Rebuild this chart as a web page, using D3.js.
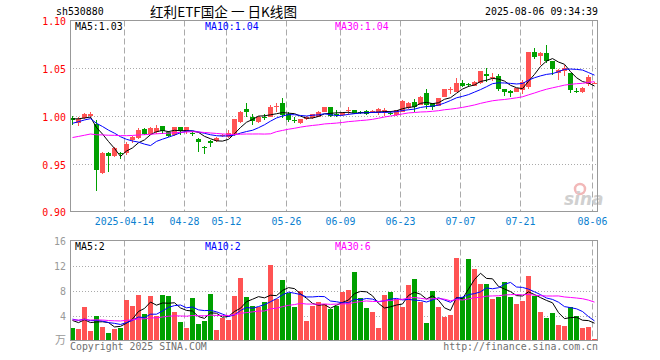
<!DOCTYPE html>
<html><head><meta charset="utf-8">
<script src="https://cdn.jsdelivr.net/npm/d3@7"></script>
<style>body{margin:0;background:#fff}svg{display:block}</style>
</head><body><svg id="c" width="660" height="360"></svg>
<script>
// ---------- data ----------
const dates = ["2025-03-31","2025-04-01","2025-04-02","2025-04-03","2025-04-07","2025-04-08","2025-04-09","2025-04-10","2025-04-11",
"2025-04-14","2025-04-15","2025-04-16","2025-04-17","2025-04-18","2025-04-21","2025-04-22","2025-04-23","2025-04-24","2025-04-25",
"2025-04-28","2025-04-29","2025-04-30","2025-05-06","2025-05-07","2025-05-08","2025-05-09",
"2025-05-12","2025-05-13","2025-05-14","2025-05-15","2025-05-16","2025-05-19","2025-05-20","2025-05-21","2025-05-22","2025-05-23",
"2025-05-26","2025-05-27","2025-05-28","2025-05-29","2025-05-30","2025-06-03","2025-06-04","2025-06-05","2025-06-06",
"2025-06-09","2025-06-10","2025-06-11","2025-06-12","2025-06-13","2025-06-16","2025-06-17","2025-06-18","2025-06-19","2025-06-20",
"2025-06-23","2025-06-24","2025-06-25","2025-06-26","2025-06-27","2025-06-30","2025-07-01","2025-07-02","2025-07-03","2025-07-04",
"2025-07-07","2025-07-08","2025-07-09","2025-07-10","2025-07-11","2025-07-14","2025-07-15","2025-07-16","2025-07-17","2025-07-18",
"2025-07-21","2025-07-22","2025-07-23","2025-07-24","2025-07-25","2025-07-28","2025-07-29","2025-07-30","2025-07-31","2025-08-01",
"2025-08-04","2025-08-05","2025-08-06"];

const open = [0.998,0.9925,0.9976,0.9995,0.9916,0.940,0.9614,0.958,0.9615,0.961,
0.975,0.977,0.986,0.981,0.9835,0.9892,0.9835,0.980,0.988,0.984,
0.9822,0.976,0.968,0.9735,0.974,0.9795,0.9776,0.980,0.994,1.0074,
0.9993,0.994,0.999,0.9993,1.0095,1.0134,1.0018,0.9962,0.9923,0.997,
0.998,0.9993,1.0045,1.009,1.002,1.001,1.005,1.0063,1.0038,1.0056,
1.004,1.0035,1.006,1.003,1.001,1.0045,1.008,1.015,1.0116,1.0239,
1.0134,1.0105,1.020,1.028,1.0256,1.035,1.033,1.0316,1.0344,1.044,
1.040,1.0421,1.028,1.0263,1.0256,1.0274,1.030,1.0666,1.0624,1.066,
1.0572,1.0449,1.0466,1.0449,1.026,1.0256,1.0334,1.0335];

const high = [1.0005,0.999,1.003,1.0045,0.9958,0.9625,0.962,0.968,0.962,0.9725,
0.979,0.987,0.987,0.988,0.991,0.990,0.984,0.989,0.989,0.989,
0.9835,0.977,0.9685,0.9747,0.978,0.9815,0.985,0.997,1.005,1.0134,
1.0018,1.0005,1.002,1.0118,1.0134,1.0186,1.004,0.999,0.997,1.000,
1.0025,1.005,1.0095,1.0095,1.0066,1.004,1.0098,1.0068,1.0055,1.006,
1.006,1.008,1.008,1.0055,1.0068,1.0165,1.015,1.018,1.021,1.028,
1.014,1.019,1.0285,1.0305,1.0397,1.038,1.0345,1.037,1.047,1.050,
1.045,1.044,1.0285,1.027,1.0295,1.0375,1.0668,1.0713,1.067,1.0747,
1.058,1.049,1.0535,1.045,1.029,1.0305,1.0425,1.0355];

const low = [0.9905,0.990,0.9965,0.9976,0.9214,0.939,0.9414,0.957,0.955,0.959,
0.972,0.976,0.980,0.980,0.981,0.981,0.978,0.979,0.980,0.981,
0.979,0.9624,0.9607,0.9677,0.973,0.978,0.977,0.9795,0.993,0.9993,
0.9905,0.993,0.996,0.999,1.0045,0.9976,0.994,0.993,0.992,0.9955,
0.997,0.999,1.004,0.999,0.9993,1.000,1.001,1.002,1.002,1.001,
1.003,1.001,1.000,1.001,1.000,1.004,1.0075,1.0045,1.011,1.007,
1.006,1.010,1.0195,1.023,1.025,1.030,1.030,1.031,1.034,1.036,
1.0365,1.0265,1.021,1.0197,1.025,1.0235,1.0285,1.0597,1.0537,1.0555,
1.0432,1.0379,1.0415,1.024,1.0245,1.024,1.031,1.033];

const close = [0.9955,0.997,1.002,1.002,0.943,0.9614,0.958,0.966,0.960,0.971,
0.978,0.985,0.981,0.987,0.987,0.9842,0.979,0.988,0.9845,0.988,
0.9815,0.9725,0.967,0.972,0.977,0.980,0.9818,0.9965,1.0045,1.0045,
0.9947,0.9993,0.998,1.0098,1.010,1.001,0.996,0.9955,0.9968,0.999,
1.002,1.0045,1.009,0.9995,1.0015,1.0035,1.0058,1.003,1.0033,1.002,
1.005,1.007,1.0065,1.0025,1.0063,1.0158,1.014,1.0098,1.0203,1.0116,
1.009,1.0186,1.028,1.0285,1.035,1.031,1.0322,1.036,1.0466,1.0415,
1.041,1.028,1.0256,1.0245,1.029,1.036,1.0666,1.0618,1.066,1.0572,
1.0491,1.0484,1.050,1.0274,1.0256,1.029,1.0405,1.0345];

// volume, in 万 (10k)
const volume = [2.03,1.87,5.39,1.55,4.0,2.19,1.23,1.87,2.03,6.5,
5.55,7.3,4.27,7.15,4.0,7.3,7.1,4.64,2.99,2.03,
6.83,2.67,3.15,7.47,1.7,3.63,3.31,7.15,10.0,6.99,
5.55,5.39,6.19,12.1,6.67,9.7,7.63,5.39,7.95,3.15,
5.55,6.19,5.87,5.07,5.55,7.79,8.1,11.0,6.83,5.23,
4.59,2.03,7.3,7.79,6.67,5.39,8.9,9.87,6.19,2.83,
7.95,5.39,3.79,4.1,13.2,6.99,13.07,11.47,9.07,9.07,
6.67,6.99,9.39,6.99,5.87,6.35,10.35,7.15,4.59,3.63,
4.43,2.51,2.35,5.39,3.95,2.03,2.19,0.27];

// estimated sessions before the visible window (needed to seed the moving averages)
const priorClose = [0.962,0.965,0.963,0.967,0.966,0.969,0.968,0.970,0.972,0.971,
0.969,0.972,0.974,0.973,0.972,0.971,0.974,0.975,0.973,0.974,
0.980,0.984,0.988,0.992,0.995,0.996,0.998,0.997,0.998];
const priorVol = [3.1,3.5,2.9,3.4,3.0,3.6,3.2,2.8,3.3,3.5,
3.1,3.4,3.0,3.2,3.6,3.3,2.9,3.4,3.3,3.5,
3.9,3.2,4.1,3.5,3.4,3.6,3.1,3.8,3.5];

const maPeriods = [5, 10, 30];
const priceMaText = ["1.03", "1.04", "1.04"];
const volMaText = ["2", "2", "6"];

const tickDates = ["2025-04-14","2025-04-28","2025-05-12","2025-05-26","2025-06-09","2025-06-23","2025-07-07","2025-07-21","2025-08-06"];
const tickLabels = ["2025-04-14","04-28","05-12","05-26","06-09","06-23","07-07","07-21","08-06"];
const priceTicks = [0.90, 0.95, 1.00, 1.05, 1.10];
const volTicks = [4, 8, 12, 16];

const symbol = "sh530880";
const title = "红利ETF国企 一 日K线图";
const stamp = "2025-08-06 09:34:39";

// ---------- drawing ----------
const svg = d3.select("#c");
const L = 70, R = 598;
const PT = 20.5, PB = 211.5, VT = 240.5, VB = 340.5;
const UP = "#ff5353", DOWN = "#00a000";
const MA_COL = ["#000000", "#0000ff", "#ff00ff"];
const MONO = "'DejaVu Sans Mono', monospace";

const x = d3.scaleBand().domain(dates).range([L - 0.5, R - 0.5]).paddingInner(1/6).paddingOuter(1/12);
const bw = x.bandwidth();
const yP = d3.scaleLinear().domain([0.90, 1.10]).range([PB, PT]);
const yV = d3.scaleLinear().domain([0, 16]).range([VB, VT]);

function movingAvg(prior, vals, n) {
  const all = prior.concat(vals), off = prior.length;
  return vals.map((v, i) => d3.mean(all.slice(off + i - n + 1, off + i + 1)));
}
function fitMono(sel, fs) {
  sel.attr("font-family", MONO).attr("font-size", fs).each(function () {
    const t = this.textContent;
    this.setAttribute("textLength", (t.length * 5.95).toFixed(1));
    this.setAttribute("lengthAdjust", "spacingAndGlyphs");
  });
}
const cx = d => x(d) + bw / 2;

// gridlines
const grid = svg.append("g");
[[PT, PB], [VT, VB]].forEach(([t, b]) => {
  grid.selectAll(null).data(tickDates).join("line")
    .attr("x1", d => Math.floor(x(d)) + 0.5).attr("x2", d => Math.floor(x(d)) + 0.5)
    .attr("y1", t).attr("y2", b)
    .attr("stroke", "#aaaaaa").attr("stroke-dasharray", "6,3");
});
grid.selectAll(null).data([0.95, 1.00, 1.05]).join("line")
  .attr("x1", L).attr("x2", R).attr("y1", d => Math.round(yP(d)) + 0.5).attr("y2", d => Math.round(yP(d)) + 0.5)
  .attr("stroke", "#aaaaaa").attr("stroke-dasharray", "1,2");
grid.selectAll(null).data([4, 8, 12]).join("line")
  .attr("x1", L).attr("x2", R).attr("y1", d => Math.round(yV(d)) + 0.5).attr("y2", d => Math.round(yV(d)) + 0.5)
  .attr("stroke", "#aaaaaa").attr("stroke-dasharray", "1,2");

// watermark
const wm = svg.append("g");
wm.append("circle").attr("cx", 580).attr("cy", 189).attr("r", 5).attr("fill", "none").attr("stroke", "#f2b8b8").attr("stroke-width", 2.5);
wm.append("text").attr("x", 564).attr("y", 205).attr("font-family", "'DejaVu Sans', sans-serif")
  .attr("font-style", "italic").attr("font-weight", "bold").attr("font-size", 17).attr("fill", "#d0d0d0").text("sina");

// candles
const idx = d3.range(dates.length);
const isUp = i => close[i] >= open[i];
const cg = svg.append("g").attr("shape-rendering", "crispEdges");
cg.selectAll("line").data(idx).join("line")
  .attr("x1", i => Math.floor(cx(dates[i])) + 0.5).attr("x2", i => Math.floor(cx(dates[i])) + 0.5)
  .attr("y1", i => yP(high[i])).attr("y2", i => yP(low[i]))
  .attr("stroke", i => isUp(i) ? UP : DOWN);
cg.selectAll("rect").data(idx).join("rect")
  .attr("x", i => x(dates[i])).attr("width", bw)
  .attr("y", i => yP(Math.max(open[i], close[i])))
  .attr("height", i => Math.max(1, yP(Math.min(open[i], close[i])) - yP(Math.max(open[i], close[i]))))
  .attr("fill", i => isUp(i) ? UP : DOWN);

// volume bars
svg.append("g").attr("shape-rendering", "crispEdges").selectAll("rect").data(idx).join("rect")
  .attr("x", i => x(dates[i])).attr("width", bw)
  .attr("y", i => yV(volume[i])).attr("height", i => VB - yV(volume[i]))
  .attr("fill", i => isUp(i) ? UP : DOWN);

// moving averages
maPeriods.forEach((n, k) => {
  const mp = movingAvg(priorClose, close, n);
  const mv = movingAvg(priorVol, volume, n);
  svg.append("path").datum(mp).attr("fill", "none").attr("stroke", MA_COL[k]).attr("stroke-width", 1)
    .attr("d", d3.line().x((d, i) => cx(dates[i])).y(d => yP(d)));
  svg.append("path").datum(mv).attr("fill", "none").attr("stroke", MA_COL[k]).attr("stroke-width", 1)
    .attr("d", d3.line().x((d, i) => cx(dates[i])).y(d => yV(d)));
});

// frames
[[PT, PB], [VT, VB]].forEach(([t, b]) => {
  svg.append("rect").attr("x", L + 0.5).attr("y", t).attr("width", R - L - 1).attr("height", b - t)
    .attr("fill", "none").attr("stroke", "#999999").attr("shape-rendering", "crispEdges");
});

// axes
const ay = svg.append("g").attr("transform", `translate(${L},0)`)
  .call(d3.axisLeft(yP).tickValues(priceTicks).tickFormat(d3.format(".2f")).tickSize(0).tickPadding(4));
ay.select(".domain").remove();
ay.selectAll("text").attr("fill", "#ff0000").attr("dy", "0.4em");
fitMono(ay.selectAll("text"), 11);

const av = svg.append("g").attr("transform", `translate(${L},0)`)
  .call(d3.axisLeft(yV).tickValues(volTicks).tickFormat(d3.format("d")).tickSize(0).tickPadding(4));
av.select(".domain").remove();
av.selectAll("text").attr("fill", "#999999").attr("dy", "0.35em");
fitMono(av.selectAll("text"), 11);

const ax = svg.append("g").attr("transform", `translate(-2,${PB})`)
  .call(d3.axisBottom(x).tickValues(tickDates).tickFormat((d, i) => tickLabels[i]).tickSize(0).tickPadding(6));
ax.select(".domain").remove();
ax.selectAll("text").attr("fill", "#0b7fd0");
fitMono(ax.selectAll("text"), 11);

// header & labels
const tx = (xx, yy, s, col, fs, anchor) => {
  const t = svg.append("text").attr("x", xx).attr("y", yy).attr("fill", col).attr("text-anchor", anchor || "start").text(s);
  fitMono(t, fs); return t;
};
tx(56, 14.5, symbol, "#000", 11);
tx(598, 14.5, stamp, "#000", 11, "end");
svg.append("text").attr("x", 150).attr("y", 16.5).attr("font-family", "'Noto Sans CJK SC', sans-serif")
  .attr("font-size", 13.5).attr("textLength", 147).attr("lengthAdjust", "spacingAndGlyphs").attr("fill", "#000").text(title);

const labX = [75, 205, 335];
maPeriods.forEach((n, k) => {
  tx(labX[k], 30, `MA${n}:${priceMaText[k]}`, MA_COL[k], 11);
  tx(labX[k], 250, `MA${n}:${volMaText[k]}`, MA_COL[k], 11);
});
svg.append("text").attr("x", 66).attr("y", 344).attr("text-anchor", "end").attr("fill", "#999")
  .attr("font-family", "'Noto Sans CJK SC', sans-serif").attr("font-size", 11).text("万");
tx(70, 349.5, "Copyright 2025 SINA.COM", "#707070", 11);
tx(598, 349.5, "http://finance.sina.com.cn", "#707070", 11, "end");
</script>
</body></html>
